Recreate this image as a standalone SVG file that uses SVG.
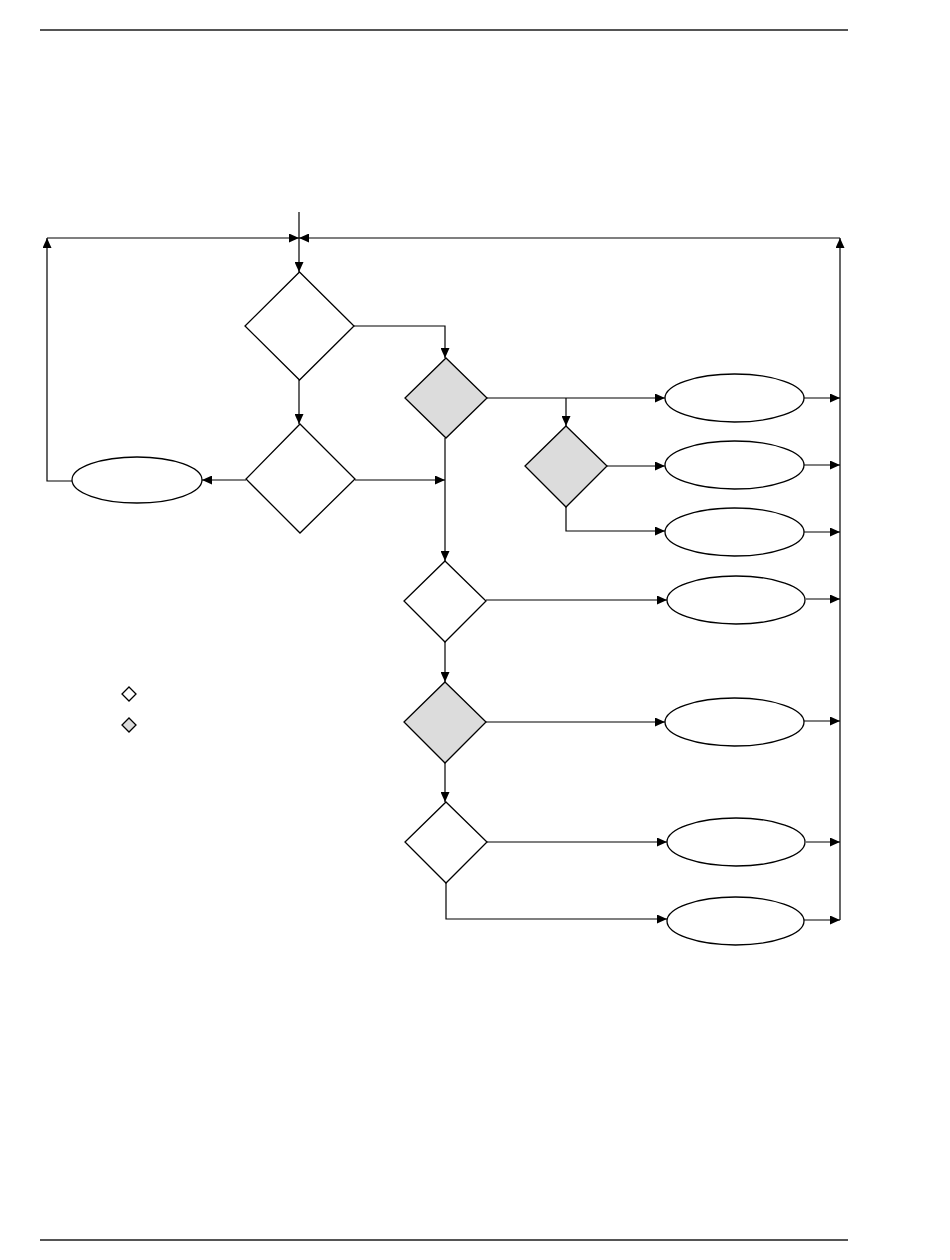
<svg xmlns="http://www.w3.org/2000/svg" width="950" height="1260" viewBox="0 0 950 1260">
<style>
.n{fill:#fff;stroke:#000;stroke-width:1.3}
.g{fill:#dcdcdc;stroke:#000;stroke-width:1.3}
.c{fill:none;stroke:#000;stroke-width:1.2}
.a{marker-end:url(#ah)}
.rule{stroke:#555;stroke-width:2}
</style>
<defs>
<marker id="ah" markerUnits="userSpaceOnUse" markerWidth="10" markerHeight="9" refX="10" refY="4.5" orient="auto">
<path d="M0,0 L10,4.5 L0,9 z" fill="#000"/>
</marker>
</defs>
<rect width="950" height="1260" fill="#fff"/>
<line class="rule" x1="40" y1="30" x2="848" y2="30"/>
<line class="rule" x1="40" y1="1240" x2="848" y2="1240"/>
<g id="connectors">
<path class="c a" d="M299,212 V272"/>
<path class="c a" d="M47,238 H299"/>
<path class="c a" d="M840,238 H299"/>
<path class="c a" d="M72,481 H47 V238"/>
<path class="c a" d="M840,920 V238"/>
<path class="c a" d="M299,380 V424"/>
<path class="c a" d="M354,326 H445 V358"/>
<path class="c a" d="M246,480 H202"/>
<path class="c a" d="M355,480 H445"/>
<path class="c a" d="M445,438 V561"/>
<path class="c a" d="M487,398 H665"/>
<path class="c a" d="M566,398 V426"/>
<path class="c a" d="M607,466 H665"/>
<path class="c a" d="M566,507 V531 H665"/>
<path class="c a" d="M804,398 H840"/>
<path class="c a" d="M804,465 H840"/>
<path class="c a" d="M804,532 H840"/>
<path class="c a" d="M486,600 H667"/>
<path class="c a" d="M806,599 H840"/>
<path class="c a" d="M445,642 V682"/>
<path class="c a" d="M486,722 H665"/>
<path class="c a" d="M804,721 H840"/>
<path class="c a" d="M445,763 V802"/>
<path class="c a" d="M487,842 H667"/>
<path class="c a" d="M806,842 H840"/>
<path class="c a" d="M446,883 V919 H667"/>
<path class="c a" d="M804,920 H840"/>
</g>
<g id="d1"><polygon class="n" points="299.5,272 354,326 299.5,380 245,326"/></g>
<g id="d2"><polygon class="n" points="300,424 355,479 300,533 246,479"/></g>
<g id="e0"><ellipse class="n" cx="137" cy="480" rx="65" ry="23"/></g>
<g id="dA"><polygon class="g" points="446,358 487,398 446,438 405,398"/></g>
<g id="dC"><polygon class="g" points="566,426 607,466 566,507 525,466"/></g>
<g id="e1"><ellipse class="n" cx="734.5" cy="398" rx="69.5" ry="24"/></g>
<g id="e2"><ellipse class="n" cx="734.5" cy="465" rx="69.5" ry="24"/></g>
<g id="e3"><ellipse class="n" cx="734.5" cy="532" rx="69.5" ry="24"/></g>
<g id="dB"><polygon class="n" points="445,561 486,601 445,642 404,601"/></g>
<g id="e4"><ellipse class="n" cx="736" cy="600" rx="69" ry="24"/></g>
<g id="dD"><polygon class="g" points="445,682 486,722 445,763 404,722"/></g>
<g id="e5"><ellipse class="n" cx="734.5" cy="722" rx="69.5" ry="24"/></g>
<g id="dE"><polygon class="n" points="446,802 487,842 446,883 405,842"/></g>
<g id="e6"><ellipse class="n" cx="736" cy="842" rx="69" ry="24"/></g>
<g id="e7"><ellipse class="n" cx="735.5" cy="921" rx="68.5" ry="24"/></g>
<g id="legend">
<polygon class="n" points="129,687 136,694 129,701 122,694"/>
<polygon class="g" points="129,718 136,725 129,732 122,725"/>
</g>
</svg>
